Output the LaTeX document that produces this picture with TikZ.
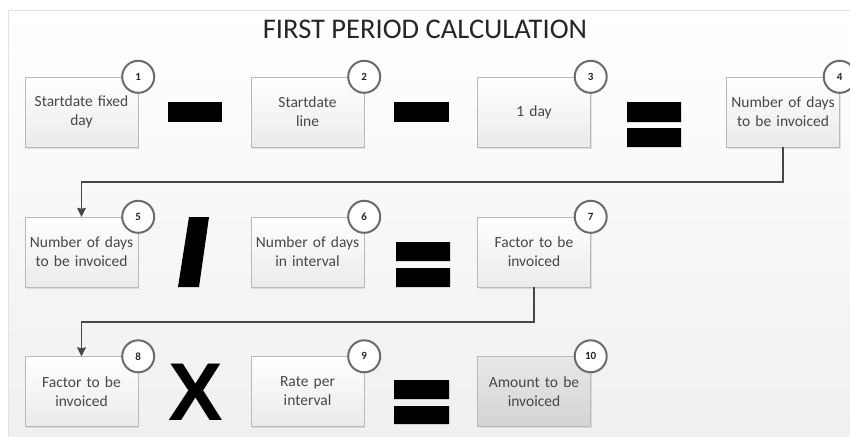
\documentclass[tikz,border=0pt]{standalone}
\usepackage{fontspec}
\setmainfont{Carlito}
\newfontfamily\opfont{Liberation Sans}
\usetikzlibrary{positioning,arrows.meta,shadows}

\begin{document}
\begin{tikzpicture}[x=1pt,y=-1pt,>={Stealth[length=9pt,width=9pt,inset=1pt]},
  stepbox/.style={draw=gray!55,top color=white,bottom color=gray!16,minimum width=113pt,minimum height=70pt,text width=107pt,align=center,inner sep=0pt,font=\fontsize{15.5}{19}\selectfont,text=black!72,drop shadow={shadow xshift=1pt,shadow yshift=-1.5pt,opacity=0.2}},
  numdot/.style={circle,draw=black!58,line width=2pt,fill=white,minimum size=32pt,inner sep=0pt,font=\fontsize{11}{11}\selectfont\bfseries,text=black!85},
  flow/.style={->,draw=black!72,line width=1.6pt}]
\useasboundingbox (0,0) rectangle (850,436);
\fill[white] (0,0) rectangle (850,436);
\draw[gray!22,top color=white,bottom color=gray!12] (8,10) rectangle (852,438);
\node[font=\fontsize{28.5}{30}\selectfont,text=black!85] (title) at (425,29) {FIRST PERIOD CALCULATION};

% row 1
\node[stepbox] (b1) at (81.5,112) {Startdate fixed\\day};
\node[stepbox] (b2) at (307.5,112) {Startdate\\line};
\node[stepbox] (b3) at (534,112) {1 day};
\node[stepbox] (b4) at (783,112) {Number of days\\to be invoiced};
\fill (168,102) rectangle (222,122);
\fill (394,102) rectangle (449,122);
\fill (627,102) rectangle (681,122) (627,128) rectangle (681,147);

% row 2
\node[stepbox] (b5) at (81.5,252) {Number of days\\to be invoiced};
\node[stepbox] (b6) at (307.5,252) {Number of days\\in interval};
\node[stepbox] (b7) at (534,252) {Factor to be\\invoiced};
\fill (189,217) -- (209,217) -- (199,287) -- (178,287) -- cycle;
\fill (396,242) rectangle (450,261) (396,268) rectangle (450,287);

% row 3
\node[stepbox] (b8) at (81.5,391.5) {Factor to be\\invoiced};
\node[stepbox] (b9) at (307.5,391.5) {Rate per\\interval};
\node[stepbox,top color=gray!18,bottom color=gray!34] (b10) at (534,391.5) {Amount to be\\invoiced};
\node[font=\opfont\bfseries\fontsize{82}{82}\selectfont,inner sep=0pt] (times) at (196,392) {X};
\fill (394,380) rectangle (449,399) (394,406) rectangle (449,424);

% numbers
\foreach \i in {1,...,10}
  \node[numdot] (n\i) at (b\i.north east) {\i};

\draw[flow] (b4.south) -- ++(0,35) -| (b5.north);
\draw[flow] (b7.south) -- ++(0,35) -| (b8.north);
\end{tikzpicture}
\end{document}
